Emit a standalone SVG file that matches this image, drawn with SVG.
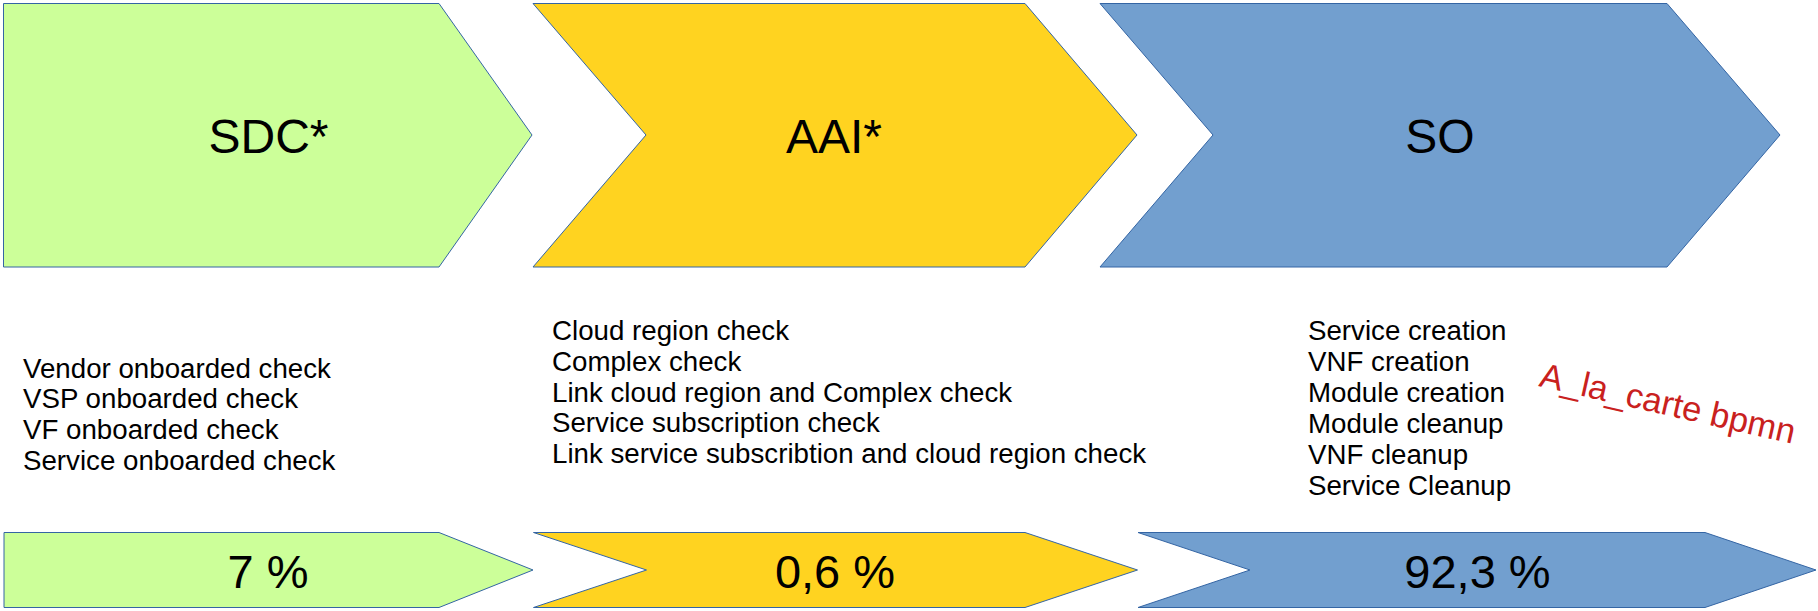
<svg xmlns="http://www.w3.org/2000/svg" width="1818" height="611" viewBox="0 0 1818 611">
<style>
.s{stroke:#3465a4;stroke-width:1}
.g{fill:#ccff99}
.y{fill:#ffd320}
.b{fill:#729fcf}
text{font-family:"Liberation Sans",Arial,sans-serif;fill:#000}
.big{font-size:48px;text-anchor:middle}
.pct{font-size:47px;text-anchor:middle}
.lst{font-size:27.7px}
.red{font-size:34.5px;fill:#c9211e}
</style>
<rect width="1818" height="611" fill="#fff"/>
<g id="sdc">
<polygon class="s g" points="3.5,3.5 439,3.5 532,135 439,267 3.5,267"/>
<text class="big" x="268.5" y="153">SDC*</text>
</g>
<g id="aai">
<polygon class="s y" points="533,3.5 1025,3.5 1137,135 1025,267 533,267 646,135"/>
<text class="big" x="834" y="153">AAI*</text>
</g>
<g id="so">
<polygon class="s b" points="1100,3.5 1667,3.5 1780,135 1667,267 1100,267 1213,135"/>
<text class="big" x="1440" y="153">SO</text>
</g>
<g id="sdc-list">
<text class="lst" x="23" y="377.5">Vendor onboarded check</text>
<text class="lst" x="23" y="408.2">VSP onboarded check</text>
<text class="lst" x="23" y="438.9">VF onboarded check</text>
<text class="lst" x="23" y="469.6">Service onboarded check</text>
</g>
<g id="aai-list">
<text class="lst" x="552" y="340">Cloud region check</text>
<text class="lst" x="552" y="370.8">Complex check</text>
<text class="lst" x="552" y="401.6">Link cloud region and Complex check</text>
<text class="lst" x="552" y="432.4">Service subscription check</text>
<text class="lst" x="552" y="463.2">Link service subscribtion and cloud region check</text>
</g>
<g id="so-list">
<text class="lst" x="1308" y="340">Service creation</text>
<text class="lst" x="1308" y="370.9">VNF creation</text>
<text class="lst" x="1308" y="401.8">Module creation</text>
<text class="lst" x="1308" y="432.7">Module cleanup</text>
<text class="lst" x="1308" y="463.6">VNF cleanup</text>
<text class="lst" x="1308" y="494.5">Service Cleanup</text>
</g>
<g id="note">
<text class="red" x="1538" y="386" transform="rotate(12.8 1538 386)">A_la_carte bpmn</text>
</g>
<g id="sdc-pct">
<polygon class="s g" points="4,532.5 439,532.5 533,570 439,607.5 4,607.5"/>
<text class="pct" x="268" y="587.5">7 %</text>
</g>
<g id="aai-pct">
<polygon class="s y" points="533.5,532.5 1025,532.5 1137.5,570 1025,607.5 533.5,607.5 646.5,570"/>
<text class="pct" x="835" y="587.5">0,6 %</text>
</g>
<g id="so-pct">
<polygon class="s b" points="1138,532.5 1705,532.5 1816,570 1705,607.5 1138,607.5 1250,570"/>
<text class="pct" x="1477.5" y="587.5">92,3 %</text>
</g>
<g id="connectors"/>
</svg>
